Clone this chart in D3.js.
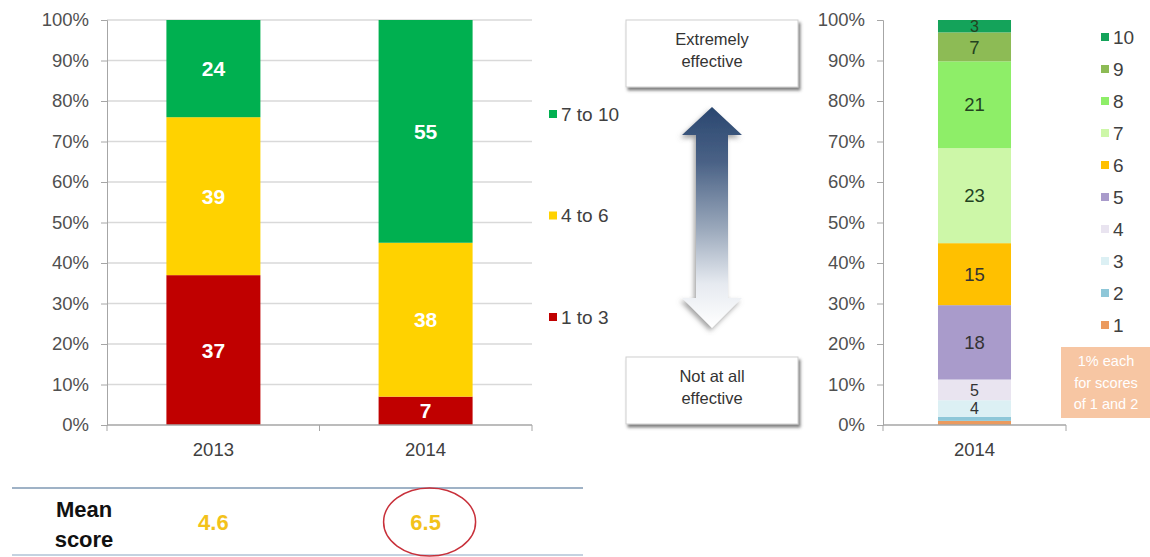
<!DOCTYPE html>
<html>
<head>
<meta charset="utf-8">
<script src="https://cdn.jsdelivr.net/npm/d3@7"></script>
<style>
  html, body { margin: 0; padding: 0; background: #fff; }
  svg { display: block; font-family: "Liberation Sans", Arial, sans-serif; }
</style>
</head>
<body>
<svg id="chart" width="1150" height="557"></svg>
<script>
// ---- Data ----
const years = ["2013", "2014"];
const groupKeys = ["1 to 3", "4 to 6", "7 to 10"];
const groupLow = [37, 7];     // share scoring 1 to 3
const groupMid = [39, 38];    // share scoring 4 to 6
const groupHigh = [24, 55];   // share scoring 7 to 10
const meanScores = ["4.6", "6.5"];

const scoreYear = ["2014"];
const scoreKeys = ["1", "2", "3", "4", "5", "6", "7", "8", "9", "10"];
const scoreValues = [1, 1, 4, 5, 18, 15, 23, 21, 7, 3];
const labelledScores = ["3", "4", "5", "6", "7", "8", "9", "10"];

const pctTicks = [0, 0.1, 0.2, 0.3, 0.4, 0.5, 0.6, 0.7, 0.8, 0.9, 1];

// ---- Styles ----
const groupColors = ["#c00000", "#ffd200", "#00b050"];
const scoreColors = ["#eb9a5e", "#8ec7d8", "#dcf0f4", "#e9e4f0", "#a99bcb",
                     "#ffc000", "#cdf7a8", "#8eee68", "#8dbb55", "#14a35a"];
const greenKeys = new Set(["7", "8", "9", "10"]);

const svg = d3.select("#chart");
const defs = svg.append("defs");

const fmtPct = d3.format(".0%");
const textGray = "#505050";
const axisGray = "#a6a6a6";

// ================= Left chart: grouped scores by year =================
const lx = d3.scaleBand().domain(years).range([107, 532])
  .paddingInner(0.557).paddingOuter(0.28);
const ly = d3.scaleLinear().domain([0, 1]).range([425, 20]);

const leftRows = years.map((y, i) => ({
  year: y, "1 to 3": groupLow[i], "4 to 6": groupMid[i], "7 to 10": groupHigh[i]
}));
const leftStack = d3.stack().keys(groupKeys).offset(d3.stackOffsetExpand)(leftRows);

const left = svg.append("g");

// gridlines
left.append("g")
  .selectAll("line")
  .data(pctTicks.slice(1))
  .join("line")
  .attr("x1", 107).attr("x2", 532)
  .attr("y1", d => ly(d)).attr("y2", d => ly(d))
  .attr("stroke", "#d9d9d9").attr("stroke-width", 1.3);

// y axis
const lyAxis = left.append("g")
  .attr("transform", "translate(107,0)")
  .call(d3.axisLeft(ly).tickValues(pctTicks).tickFormat(fmtPct).tickSize(6).tickPadding(12));
lyAxis.select(".domain").attr("stroke", axisGray);
lyAxis.selectAll(".tick line").attr("stroke", axisGray);
lyAxis.selectAll("text").attr("fill", textGray).style("font-size", "18.5px");

// bars
left.append("g")
  .selectAll("g")
  .data(leftStack)
  .join("g")
  .attr("fill", (d, i) => groupColors[i])
  .selectAll("rect")
  .data(d => d)
  .join("rect")
  .attr("x", d => lx(d.data.year))
  .attr("width", lx.bandwidth())
  .attr("y", d => ly(d[1]))
  .attr("height", d => ly(d[0]) - ly(d[1]));

// value labels
leftStack.forEach(layer => {
  left.append("g").selectAll("text")
    .data(layer)
    .join("text")
    .attr("x", d => lx(d.data.year) + lx.bandwidth() / 2)
    .attr("y", d => ly((d[0] + d[1]) / 2))
    .attr("dy", "0.36em")
    .attr("text-anchor", "middle")
    .attr("fill", "#ffffff")
    .style("font-size", "21px").style("font-weight", "bold")
    .text(d => d.data[layer.key]);
});

// x axis
const lxAxisScale = d3.scaleLinear().domain([0, 2]).range([107, 532]);
const lxAxis = left.append("g").attr("transform", "translate(0,425)");
lxAxis.append("line").attr("x1", 107).attr("x2", 532).attr("stroke", axisGray).attr("stroke-width", 1.3);
lxAxis.selectAll("line.tk").data([0, 1, 2]).join("line").attr("class", "tk")
  .attr("x1", d => lxAxisScale(d)).attr("x2", d => lxAxisScale(d))
  .attr("y1", 0).attr("y2", 6).attr("stroke", axisGray);
lxAxis.selectAll("text").data(years).join("text")
  .attr("x", d => lx(d) + lx.bandwidth() / 2)
  .attr("y", 31)
  .attr("text-anchor", "middle")
  .attr("fill", "#404040")
  .style("font-size", "18.5px")
  .text(d => d);

// legend
const legY = d3.scalePoint().domain(groupKeys.slice().reverse()).range([114, 317]);
const leg = left.append("g");
groupKeys.forEach((k, i) => {
  leg.append("rect").attr("x", 549).attr("y", legY(k) - 4).attr("width", 8).attr("height", 8)
    .attr("fill", groupColors[i]);
  leg.append("text").attr("x", 561).attr("y", legY(k)).attr("dy", "0.36em")
    .attr("fill", "#404040").style("font-size", "19px").text(k);
});

// mean score row
const mean = svg.append("g");
mean.append("line").attr("x1", 12).attr("x2", 583).attr("y1", 488).attr("y2", 488)
  .attr("stroke", "#9fb2c6").attr("stroke-width", 2);
mean.append("line").attr("x1", 12).attr("x2", 583).attr("y1", 555).attr("y2", 555)
  .attr("stroke", "#c4d2e0").attr("stroke-width", 2);
mean.append("text").attr("x", 84).attr("y", 517).attr("text-anchor", "middle")
  .attr("fill", "#111").style("font-size", "22px").style("font-weight", "bold").text("Mean");
mean.append("text").attr("x", 84).attr("y", 547).attr("text-anchor", "middle")
  .attr("fill", "#111").style("font-size", "22px").style("font-weight", "bold").text("score");
mean.selectAll("text.val").data(meanScores).join("text").attr("class", "val")
  .attr("x", (d, i) => lx(years[i]) + lx.bandwidth() / 2)
  .attr("y", 522).attr("dy", "0.36em")
  .attr("text-anchor", "middle")
  .attr("fill", "#f3c21a")
  .style("font-size", "22px").style("font-weight", "bold")
  .text(d => d);
mean.append("ellipse")
  .attr("cx", lx(years[1]) + lx.bandwidth() / 2 + 4).attr("cy", 522)
  .attr("rx", 46).attr("ry", 34)
  .attr("fill", "none").attr("stroke", "#c8303a").attr("stroke-width", 1.5);

// ================= Middle: effectiveness scale =================
const shadow = defs.append("filter").attr("id", "boxShadow")
  .attr("x", "-10%").attr("y", "-10%").attr("width", "130%").attr("height", "140%");
shadow.append("feDropShadow").attr("dx", 2).attr("dy", 3).attr("stdDeviation", 1.6)
  .attr("flood-color", "#555").attr("flood-opacity", 0.75);

const arrowShadow = defs.append("filter").attr("id", "arrowShadow")
  .attr("x", "-40%").attr("y", "-10%").attr("width", "180%").attr("height", "130%");
arrowShadow.append("feDropShadow").attr("dx", -2).attr("dy", 3).attr("stdDeviation", 2.5)
  .attr("flood-color", "#666").attr("flood-opacity", 0.6);

const grad = defs.append("linearGradient").attr("id", "arrowGrad")
  .attr("x1", 0).attr("y1", 0).attr("x2", 0).attr("y2", 1);
grad.append("stop").attr("offset", "0%").attr("stop-color", "#2a4770");
grad.append("stop").attr("offset", "25%").attr("stop-color", "#4a6286");
grad.append("stop").attr("offset", "55%").attr("stop-color", "#9aa8bb");
grad.append("stop").attr("offset", "80%").attr("stop-color", "#e6eaf0");
grad.append("stop").attr("offset", "100%").attr("stop-color", "#ffffff");

const mid = svg.append("g");
const boxes = [
  { y: 20, h: 67, lines: ["Extremely", "effective"] },
  { y: 357, h: 67, lines: ["Not at all", "effective"] }
];
boxes.forEach(b => {
  mid.append("rect").attr("x", 626).attr("y", b.y).attr("width", 172).attr("height", b.h)
    .attr("fill", "#fff").attr("stroke", "#cfcfcf").attr("stroke-width", 1)
    .attr("filter", "url(#boxShadow)");
  b.lines.forEach((t, i) => {
    mid.append("text").attr("x", 712).attr("y", b.y + 19 + i * 22).attr("dy", "0.36em")
      .attr("text-anchor", "middle").attr("fill", "#333").style("font-size", "16.5px").text(t);
  });
});

const arrowPath = d3.path();
arrowPath.moveTo(712, 107);
arrowPath.lineTo(742, 135);
arrowPath.lineTo(728, 135);
arrowPath.lineTo(728, 298);
arrowPath.lineTo(742, 298);
arrowPath.lineTo(712, 328);
arrowPath.lineTo(682, 298);
arrowPath.lineTo(696, 298);
arrowPath.lineTo(696, 135);
arrowPath.lineTo(682, 135);
arrowPath.closePath();
mid.append("path").attr("d", arrowPath.toString())
  .attr("fill", "url(#arrowGrad)").attr("filter", "url(#arrowShadow)");

// ================= Right chart: individual scores, 2014 =================
const rx = d3.scaleBand().domain(scoreYear).range([883, 1066])
  .paddingInner(0).paddingOuter(0.753);
const ry = d3.scaleLinear().domain([0, 1]).range([425, 20]);

const scoreRow = { year: scoreYear[0] };
scoreKeys.forEach((k, i) => { scoreRow[k] = scoreValues[i]; });
const rightStack = d3.stack().keys(scoreKeys).offset(d3.stackOffsetExpand)([scoreRow]);

const right = svg.append("g");
const ryAxis = right.append("g")
  .attr("transform", "translate(883,0)")
  .call(d3.axisLeft(ry).tickValues(pctTicks).tickFormat(fmtPct).tickSize(6).tickPadding(12));
ryAxis.select(".domain").attr("stroke", axisGray);
ryAxis.selectAll(".tick line").attr("stroke", axisGray);
ryAxis.selectAll("text").attr("fill", textGray).style("font-size", "18.5px");

right.append("g")
  .selectAll("rect")
  .data(rightStack)
  .join("rect")
  .attr("fill", (d, i) => scoreColors[i])
  .attr("x", rx(scoreYear[0]))
  .attr("width", rx.bandwidth())
  .attr("y", d => ry(d[0][1]))
  .attr("height", d => ry(d[0][0]) - ry(d[0][1]));

// segment labels; thin segments get a slightly smaller font so neighbours don't collide
right.append("g")
  .selectAll("text")
  .data(rightStack.filter(l => labelledScores.includes(l.key)))
  .join("text")
  .attr("x", rx(scoreYear[0]) + rx.bandwidth() / 2)
  .attr("y", d => ry((d[0][0] + d[0][1]) / 2))
  .attr("dy", "0.36em")
  .attr("text-anchor", "middle")
  .attr("fill", d => greenKeys.has(d.key) ? "#23421f" : "#333")
  .style("font-size", d => (ry(d[0][0]) - ry(d[0][1])) < 24 ? "16px" : "18.5px")
  .text(d => d[0].data[d.key]);

const rxAxis = right.append("g").attr("transform", "translate(0,425)");
rxAxis.append("line").attr("x1", 883).attr("x2", 1066).attr("stroke", axisGray).attr("stroke-width", 1.3);
rxAxis.selectAll("line.tk").data([883, 1066]).join("line").attr("class", "tk")
  .attr("x1", d => d).attr("x2", d => d).attr("y1", 0).attr("y2", 6).attr("stroke", axisGray);
rxAxis.append("text")
  .attr("x", rx(scoreYear[0]) + rx.bandwidth() / 2).attr("y", 31)
  .attr("text-anchor", "middle").attr("fill", "#404040").style("font-size", "18.5px")
  .text(scoreYear[0]);

// score legend
const sLegY = d3.scalePoint().domain(scoreKeys.slice().reverse()).range([37, 325]);
const sLeg = right.append("g");
scoreKeys.forEach((k, i) => {
  sLeg.append("rect").attr("x", 1101).attr("y", sLegY(k) - 4).attr("width", 8).attr("height", 8)
    .attr("fill", scoreColors[i]);
  sLeg.append("text").attr("x", 1113).attr("y", sLegY(k)).attr("dy", "0.36em")
    .attr("fill", "#404040").style("font-size", "19px").text(k);
});

// note box
const note = right.append("g");
note.append("rect").attr("x", 1061).attr("y", 347).attr("width", 89).attr("height", 71)
  .attr("fill", "#f7c6a3");
["1% each", "for scores", "of 1 and 2"].forEach((t, i) => {
  note.append("text").attr("x", 1106).attr("y", 361 + i * 21.5).attr("dy", "0.36em")
    .attr("text-anchor", "middle").attr("fill", "#ffffff").style("font-size", "14.5px").text(t);
});
</script>
</body>
</html>
